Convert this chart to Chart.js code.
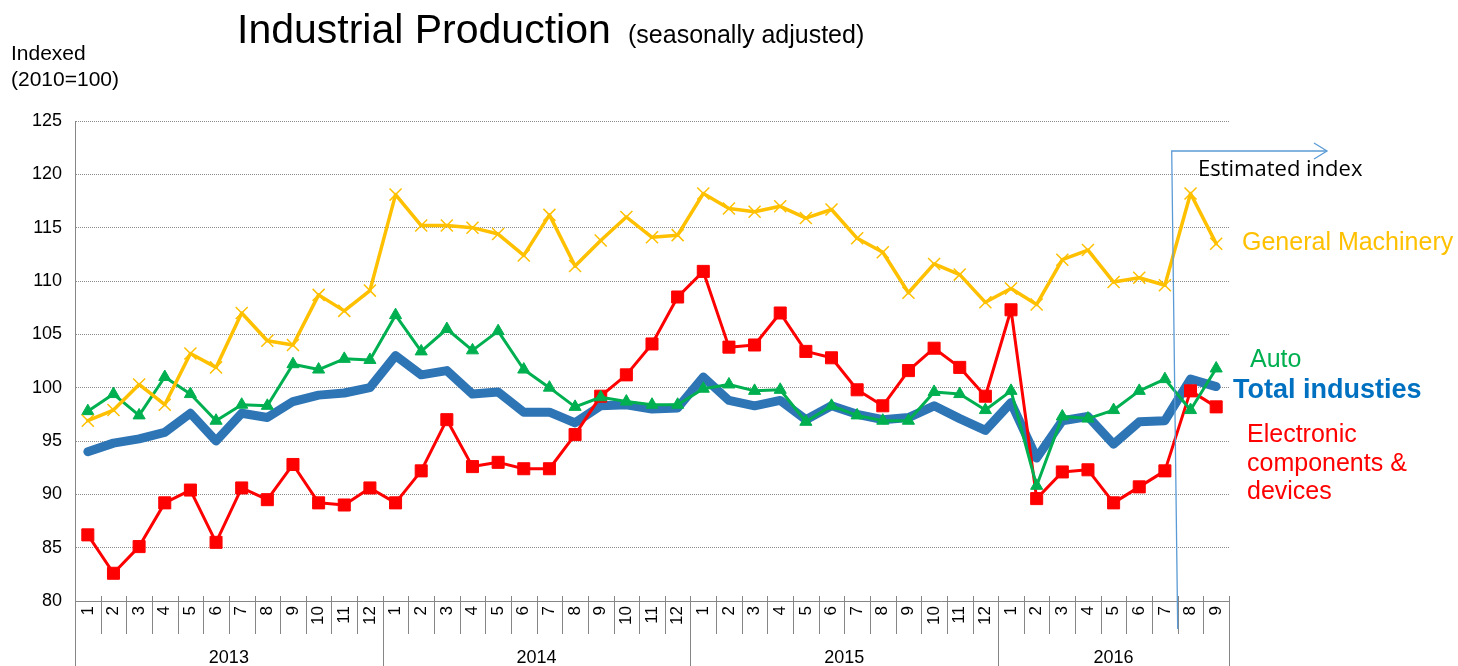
<!DOCTYPE html>
<html lang="en">
<head>
    <meta charset="UTF-8">
    <title>Industrial Production</title>
    <script src="https://cdn.jsdelivr.net/npm/chart.js"></script>
    <style>
        body { margin: 0; background: #fff; }
        canvas { display: block; }
    </style>
</head>
<body>
    <canvas id="divLineChart" width="1458" height="666"></canvas>

    <script>
        // ------------------------------------------------
        // Dados (índice 2010=100, com ajuste sazonal)
        const anos = ['2013', '2014', '2015', '2016'];
        const mesesPorAno = [12, 12, 12, 9];
        const meses = [
            '1', '2', '3', '4', '5', '6', '7', '8', '9', '10', '11', '12',
            '1', '2', '3', '4', '5', '6', '7', '8', '9', '10', '11', '12',
            '1', '2', '3', '4', '5', '6', '7', '8', '9', '10', '11', '12',
            '1', '2', '3', '4', '5', '6', '7', '8', '9'
        ];
        const yTicks = [80, 85, 90, 95, 100, 105, 110, 115, 120, 125];

        const totalIndustries = [
            94.0, 94.8, 95.2, 95.8, 97.6, 95.0, 97.6, 97.2, 98.7, 99.3, 99.5, 100.0,
            103.0, 101.2, 101.6, 99.4, 99.6, 97.7, 97.7, 96.7, 98.3, 98.4, 98.0, 98.1,
            101.0, 98.8, 98.3, 98.8, 97.0, 98.3, 97.5, 97.0, 97.2, 98.3, 97.1, 96.0,
            98.6, 93.4, 96.9, 97.3, 94.7, 96.8, 96.9, 100.8, 100.1
        ];
        const generalMachinery = [
            96.9, 97.9, 100.3, 98.4, 103.2, 101.9, 107.0, 104.4, 104.0, 108.7, 107.2, 109.1,
            118.1, 115.2, 115.2, 115.0, 114.4, 112.4, 116.2, 111.4, 113.8, 116.0, 114.1, 114.3,
            118.2, 116.8, 116.5, 117.0, 115.9, 116.7, 114.0, 112.7, 108.9, 111.6, 110.6, 108.0,
            109.3, 107.8, 112.0, 112.9, 109.9, 110.3, 109.6, 118.2, 113.5
        ];
        const auto = [
            97.8, 99.4, 97.4, 101.0, 99.4, 96.9, 98.4, 98.3, 102.2, 101.7, 102.7, 102.6,
            106.8, 103.4, 105.5, 103.5, 105.3, 101.7, 100.0, 98.2, 99.1, 98.7, 98.4, 98.4,
            99.9, 100.3, 99.7, 99.8, 96.8, 98.3, 97.4, 96.9, 96.9, 99.6, 99.4, 97.9,
            99.7, 90.8, 97.3, 97.1, 97.9, 99.7, 100.8, 97.9, 101.8
        ];
        const electronic = [
            86.2, 82.6, 85.1, 89.2, 90.4, 85.5, 90.6, 89.5, 92.8, 89.2, 89.0, 90.6,
            89.2, 92.2, 97.0, 92.6, 93.0, 92.4, 92.4, 95.6, 99.2, 101.2, 104.1, 108.5,
            110.9, 103.8, 104.0, 107.0, 103.4, 102.8, 99.8, 98.3, 101.6, 103.7, 101.9, 99.2,
            107.3, 89.6, 92.1, 92.3, 89.2, 90.7, 92.2, 99.7, 98.2
        ];

        const fonte = "'Liberation Sans', Arial, sans-serif";
        const cinza = '#868686';

        // ------------------------------------------------
        // Textos, separadores de anos e a seta de "Estimated index"
        const anotacoes = {
            id: 'anotacoes',
            afterDraw(chart) {
                const ctx = chart.ctx;
                const x = chart.scales.x;
                const area = chart.chartArea;
                const n = meses.length;
                const limite = i => {
                    if (i <= 0) return area.left;
                    if (i >= n) return area.right;
                    return (x.getPixelForValue(i - 1) + x.getPixelForValue(i)) / 2;
                };

                ctx.save();

                // separadores dos meses e dos anos
                const inicioAno = [0];
                mesesPorAno.forEach(m => inicioAno.push(inicioAno[inicioAno.length - 1] + m));
                ctx.strokeStyle = cinza;
                ctx.lineWidth = 1;
                for (let i = 0; i <= n; i++) {
                    const bx = Math.round(limite(i)) + 0.5;
                    const ehAno = inicioAno.includes(i);
                    ctx.beginPath();
                    ctx.moveTo(bx, area.bottom - 5);
                    ctx.lineTo(bx, ehAno ? 666 : area.bottom + 33);
                    ctx.stroke();
                }

                // rótulos dos anos
                ctx.fillStyle = '#000';
                ctx.font = '18px ' + fonte;
                ctx.textAlign = 'center';
                ctx.textBaseline = 'alphabetic';
                anos.forEach((ano, k) => {
                    const cx = (limite(inicioAno[k]) + limite(inicioAno[k + 1])) / 2;
                    ctx.fillText(ano, cx, 663);
                });

                // título
                ctx.textAlign = 'left';
                ctx.font = '41px ' + fonte;
                ctx.fillText('Industrial Production', 237, 43);
                ctx.font = '25px ' + fonte;
                ctx.fillText('(seasonally adjusted)', 628, 43);

                // rótulo do eixo y
                ctx.font = '21px ' + fonte;
                ctx.fillText('Indexed', 11, 60);
                ctx.fillText('(2010=100)', 11, 86);

                // nomes das séries
                ctx.font = '25px ' + fonte;
                ctx.fillStyle = '#FFC000';
                ctx.fillText('General Machinery', 1242, 250);
                ctx.fillStyle = '#00B050';
                ctx.fillText('Auto', 1250, 367);
                ctx.fillStyle = '#0070C0';
                ctx.font = 'bold 27px ' + fonte;
                ctx.fillText('Total industies', 1233, 398);
                ctx.fillStyle = '#FF0000';
                ctx.font = '25px ' + fonte;
                ctx.fillText('Electronic', 1247, 442);
                ctx.fillText('components &', 1247, 471);
                ctx.fillText('devices', 1247, 499);

                // seta "Estimated index"
                const sx = limite(n - 2);
                ctx.strokeStyle = '#5B9BD5';
                ctx.lineWidth = 1.3;
                ctx.beginPath();
                ctx.moveTo(sx, area.bottom + 28);
                ctx.lineTo(sx - 6, 151);
                ctx.lineTo(1327, 151);
                ctx.stroke();
                ctx.beginPath();
                ctx.moveTo(1314, 143);
                ctx.lineTo(1327, 151);
                ctx.lineTo(1314, 159);
                ctx.stroke();

                ctx.fillStyle = '#000';
                ctx.font = "22px 'Open Sans', sans-serif";
                ctx.fillText('Estimated index', 1198, 176);

                ctx.restore();
            }
        };

        function serie(label, data, cor, largura, ponto, raio) {
            return {
                label: label,
                data: data,
                borderColor: cor,
                backgroundColor: cor,
                borderWidth: largura,
                pointStyle: ponto,
                pointRadius: raio,
                pointBorderWidth: ponto === 'crossRot' ? 1.5 : 1,
                pointBorderColor: cor,
                pointBackgroundColor: cor,
                borderJoinStyle: 'round',
                borderCapStyle: 'round',
                tension: 0,
                fill: false
            };
        }

        const ctx = document.getElementById('divLineChart');
        const divLineChart = new Chart(ctx, {
            type: 'line',
            data: {
                labels: meses,
                datasets: [
                    serie('General Machinery', generalMachinery, '#FFC000', 3.5, 'crossRot', 8.5),
                    serie('Auto', auto, '#00B050', 3, 'triangle', 7),
                    serie('Electronic components & devices', electronic, '#FF0000', 3, 'rect', 8.5),
                    serie('Total industies', totalIndustries, '#2E75B6', 9, false, 0)
                ]
            },
            options: {
                responsive: false,
                animation: false,
                layout: {
                    padding: { top: 121, right: 229, left: 0, bottom: 0 }
                },
                plugins: {
                    legend: { display: false },
                    title: { display: false },
                    tooltip: { enabled: false }
                },
                scales: {
                    x: {
                        type: 'category',
                        offset: true,
                        afterFit: scale => { scale.height = 65; },
                        grid: { display: false, drawTicks: false },
                        border: { display: true, color: cinza, width: 1 },
                        ticks: {
                            autoSkip: false,
                            minRotation: 90,
                            maxRotation: 90,
                            padding: 5,
                            color: '#000',
                            font: { family: fonte, size: 17 }
                        }
                    },
                    y: {
                        min: yTicks[0],
                        max: yTicks[yTicks.length - 1],
                        afterFit: scale => { scale.width = 75; },
                        afterBuildTicks: scale => {
                            scale.ticks = yTicks.map(v => ({ value: v }));
                        },
                        grid: { color: '#8c8c8c', lineWidth: 1, drawTicks: false },
                        border: { display: true, color: cinza, width: 1, dash: [1, 1] },
                        ticks: {
                            padding: 13,
                            color: '#000',
                            font: { family: fonte, size: 18 }
                        }
                    }
                }
            },
            plugins: [anotacoes]
        });
    </script>
</body>
</html>
